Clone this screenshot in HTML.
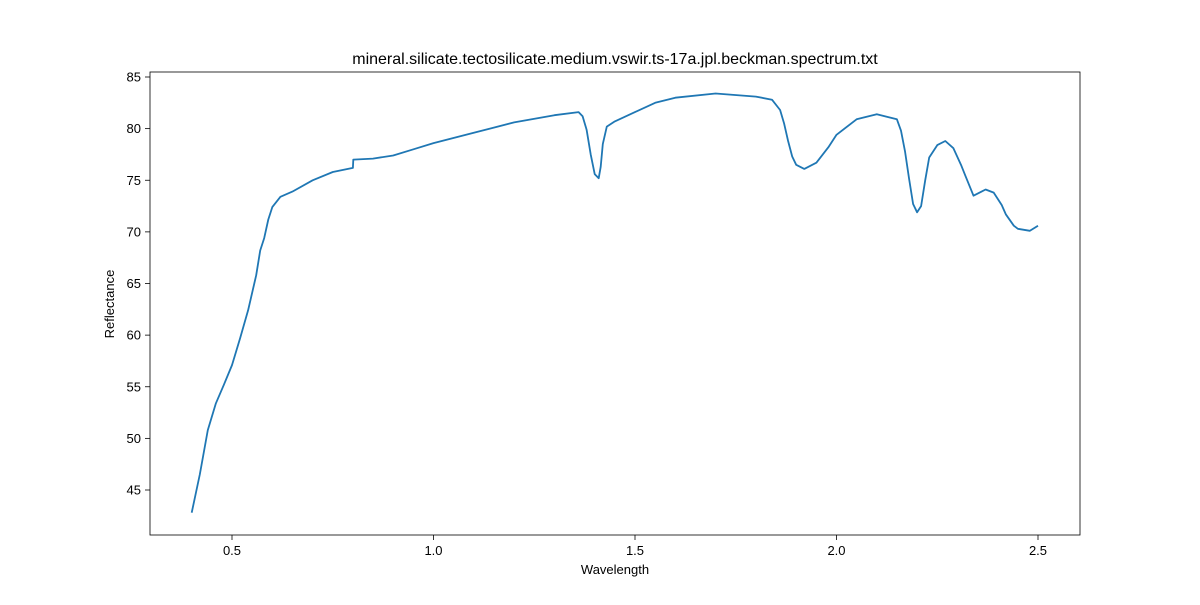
<!DOCTYPE html>
<html><head><meta charset="utf-8"><style>
body{margin:0;background:#fff;}
svg{font-family:"Liberation Sans","DejaVu Sans",sans-serif;}
</style></head><body>
<svg id="chart" width="1200" height="600">
<rect x="0" y="0" width="1200" height="600" fill="#fff"/>
<text x="615" y="64" text-anchor="middle" font-size="16">mineral.silicate.tectosilicate.medium.vswir.ts-17a.jpl.beckman.spectrum.txt</text>
<g id="axes"></g>
<text x="615" y="574" text-anchor="middle" font-size="13">Wavelength</text>
<text x="114" y="304" text-anchor="middle" font-size="13" transform="rotate(-90 114 304)">Reflectance</text>
</svg>
<script>
const wavelengths=[0.4,0.42,0.44,0.46,0.48,0.5,0.52,0.54,0.56,0.57,0.58,0.59,0.6,0.62,0.65,0.7,0.75,0.8,0.801,0.85,0.9,0.95,1.0,1.1,1.2,1.3,1.36,1.37,1.38,1.39,1.40,1.41,1.415,1.42,1.43,1.45,1.5,1.55,1.6,1.7,1.8,1.84,1.86,1.87,1.88,1.89,1.9,1.92,1.95,1.98,2.0,2.05,2.1,2.15,2.16,2.17,2.18,2.19,2.2,2.21,2.22,2.23,2.25,2.27,2.29,2.31,2.32,2.34,2.36,2.37,2.39,2.41,2.42,2.44,2.45,2.48,2.5];
const reflectance=[42.8,46.5,50.8,53.4,55.2,57.1,59.7,62.4,65.8,68.2,69.4,71.2,72.4,73.4,73.9,75.0,75.8,76.2,77.0,77.1,77.4,78.0,78.6,79.6,80.6,81.3,81.6,81.2,79.9,77.5,75.6,75.2,76.3,78.5,80.2,80.7,81.6,82.5,83.0,83.4,83.1,82.8,81.8,80.5,78.8,77.3,76.5,76.1,76.7,78.2,79.4,80.9,81.4,80.9,79.8,77.8,75.2,72.7,71.9,72.5,75.0,77.2,78.4,78.8,78.1,76.4,75.4,73.5,73.9,74.1,73.8,72.6,71.7,70.6,70.3,70.1,70.6];
const xTicks=[0.5,1.0,1.5,2.0,2.5];
const yTicks=[45,50,55,60,65,70,75,80,85];
const X=v=>232+(v-0.5)*403;
const Y=v=>490-(v-45)*10.325;
const ns="http://www.w3.org/2000/svg";
const g=document.getElementById('axes');
function mk(t,a){const e=document.createElementNS(ns,t);for(const k in a)e.setAttribute(k,a[k]);g.appendChild(e);return e;}
xTicks.forEach(v=>{
 const l=mk('line',{x1:X(v),x2:X(v),y1:535,y2:540,stroke:'#000','stroke-width':0.8});
 
 
 const t=mk('text',{x:X(v),y:555,'text-anchor':'middle','font-size':13});t.textContent=v.toFixed(1);
 
 
});
yTicks.forEach(v=>{
 const l=mk('line',{x1:145,x2:150,y1:Y(v),y2:Y(v),stroke:'#000','stroke-width':0.8});
 
 
 const t=mk('text',{x:141,y:Y(v)+4.5,'text-anchor':'end','font-size':13});t.textContent=v;
 
 
});
const d=wavelengths.map((w,i)=>(i?'L':'M')+X(w).toFixed(1)+','+Y(reflectance[i]).toFixed(1)).join('');
const p=mk('path',{d:d,fill:'none',stroke:'#1f77b4','stroke-width':1.8,'stroke-linejoin':'round'});


const f=mk('rect',{x:150,y:72,width:930,height:463,fill:'none',stroke:'#000','stroke-width':0.8});


</script>
</body></html>
